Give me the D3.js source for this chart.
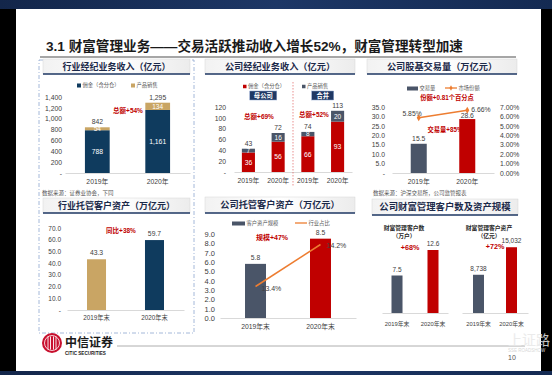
<!DOCTYPE html>
<html>
<head>
<meta charset="utf-8">
<script src="https://cdn.jsdelivr.net/npm/d3@7"></script>
<style>
  body { margin: 0; background: #000; }
  svg { display: block; }
  text { font-family: "Liberation Sans", "Noto Sans CJK SC", sans-serif; }
</style>
</head>
<body>
<svg width="552" height="375"></svg>
<script>
// ---- data
const years = ['2019年', '2020年'];
const yearEnds = ['2019年末', '2020年末'];

// 行业经纪业务收入（亿元）
const indCommission = [788, 1161];
const indProduct = [54, 134];
const indTotal = [842, 1295];
const indTicks = [0, 200, 400, 600, 800, 1000, 1200, 1400];

// 公司经纪业务收入（亿元）: 母公司 2019/2020, 合并 2019/2020
const coKeys = ['p2019', 'p2020', 'c2019', 'c2020'];
const coYears = ['2019年', '2020年', '2019年', '2020年'];
const coCommission = [36, 56, 66, 93];
const coProduct = [7, 16, 8, 20];
const coTotal = [43, 72, 74, 113];
const coTicks = [0, 20, 40, 60, 80, 100, 120];

// 公司股基交易量（万亿元）+ 市场份额
const volume = [15.5, 28.6];
const share = [5.85, 6.66];
const volTicks = [0, 5, 10, 15, 20, 25, 30, 35];
const shareTicks = [0, 1, 2, 3, 4, 5, 6, 7];

// 行业托管客户资产（万亿元）
const indCustody = [43.3, 59.7];
const indCustodyTicks = [0, 10, 20, 30, 40, 50, 60, 70];

// 公司托管客户资产（万亿元）+ 行业占比
const coCustody = [5.8, 8.5];
const coCustodyShare = [13.4, 14.2];
const coCustodyTicks = [0, 1, 2, 3, 4, 5, 6, 7, 8, 9];

// 公司财富管理客户数（万户）及资产（亿元）
const wmClients = [7.5, 12.6];
const wmAssets = [8738, 15032];

const NAVY = '#0f3b5e', GOLD = '#c9a564', RED = '#c00000', SLATE = '#4a5568', ORANGE = '#ed7d31';
const TXT = '#404040';

const svg = d3.select('svg');

// ---- slide background
const defs = svg.append('defs');
const hg = defs.append('linearGradient').attr('id', 'hdr').attr('x1', 0).attr('x2', 1).attr('y1', 0).attr('y2', 0);
hg.append('stop').attr('offset', 0).attr('stop-color', '#f2f2f2');
hg.append('stop').attr('offset', 0.5).attr('stop-color', '#ffffff');
hg.append('stop').attr('offset', 1).attr('stop-color', '#ececec');
const tb = defs.append('linearGradient').attr('id', 'topband').attr('x1', 0).attr('x2', 1);
tb.append('stop').attr('offset', 0).attr('stop-color', '#13264a');
tb.append('stop').attr('offset', 0.5).attr('stop-color', '#1d3766');
tb.append('stop').attr('offset', 1).attr('stop-color', '#142a52');

svg.append('rect').attr('width', 552).attr('height', 375).attr('fill', '#000');
svg.append('rect').attr('width', 552).attr('height', 9).attr('fill', 'url(#topband)');
svg.append('rect').attr('x', 16).attr('y', 9).attr('width', 525).attr('height', 362).attr('fill', '#fff');
svg.append('rect').attr('y', 371).attr('width', 552).attr('height', 4).attr('fill', 'url(#topband)');

// title
const title = svg.append('text').attr('x', 46).attr('y', 51).attr('font-size', 13.6).attr('fill', '#1a1a1a');
title.append('tspan').attr('font-weight', 'bold').text('3.1 ');
title.append('tspan').attr('font-weight', 'bold').text('财富管理业务——交易活跃推动收入增长');
title.append('tspan').attr('font-weight', 'bold').text('52%');
title.append('tspan').attr('font-weight', 'bold').text('，财富管理转型加速');
svg.append('line').attr('x1', 40).attr('x2', 516).attr('y1', 57).attr('y2', 57)
  .attr('stroke', '#a6a6a6').attr('stroke-width', 2);

// left dashed frame
svg.append('rect').attr('x', 39).attr('y', 60).attr('width', 155).attr('height', 273)
  .attr('fill', 'none').attr('stroke', '#8ea6cf').attr('stroke-width', 0.8).attr('stroke-dasharray', '4,2,1,2');

function header(x, y, w, h, label, size) {
  svg.append('rect').attr('x', x).attr('y', y).attr('width', w).attr('height', h)
    .attr('fill', 'url(#hdr)').attr('stroke', '#d6d6d6').attr('stroke-width', 0.5);
  svg.append('line').attr('x1', x).attr('x2', x + w).attr('y1', y + h).attr('y2', y + h)
    .attr('stroke', '#1f3864').attr('stroke-width', 1.4);
  svg.append('text').attr('x', x + w / 2).attr('y', y + h / 2 + 3.3).attr('text-anchor', 'middle')
    .attr('font-size', size).attr('font-weight', 'bold').attr('fill', '#1c2a4a').text(label);
}
header(43, 59, 147, 15, '行业经纪业务收入（亿元）', 9);
header(205, 59, 150, 15, '公司经纪业务收入（亿元）', 9.2);
header(367, 59, 150, 15, '公司股基交易量（万亿元）', 9.2);
header(43, 198, 147, 15, '行业托管客户资产（万亿元）', 9);
header(205, 197, 150, 16, '公司托管客户资产（万亿元）', 9.2);
header(372, 199, 146, 16, '公司财富管理客户数及资产规模', 9.4);

function note(x, y, label) {
  svg.append('text').attr('x', x).attr('y', y).attr('font-size', 5.5).attr('fill', '#555').text(label);
}
note(42, 195, '数据来源：证券业协会，下同');
note(373, 195, '数据来源：沪深交易所，公司监管报表');

function anno(x, y, label, size) {
  svg.append('text').attr('x', x).attr('y', y).attr('text-anchor', 'middle')
    .attr('font-size', size || 6.5).attr('font-weight', 'bold').attr('fill', RED).text(label);
}

function leftAxis(scale, ticks, fmt, x, size) {
  const g = svg.append('g').attr('transform', `translate(${x},0)`)
    .call(d3.axisLeft(scale).tickValues(ticks).tickFormat(fmt).tickSize(0).tickPadding(1));
  g.select('.domain').remove();
  g.selectAll('text').attr('font-size', size).attr('fill', TXT);
  return g;
}
function rightAxis(scale, ticks, fmt, x, size) {
  const g = svg.append('g').attr('transform', `translate(${x},0)`)
    .call(d3.axisRight(scale).tickValues(ticks).tickFormat(fmt).tickSize(0).tickPadding(1));
  g.select('.domain').remove();
  g.selectAll('text').attr('font-size', size).attr('fill', TXT);
  return g;
}
function bottomAxis(scale, y, fmt, size, pad) {
  const g = svg.append('g').attr('transform', `translate(0,${y})`)
    .call(d3.axisBottom(scale).tickSize(0).tickPadding(pad).tickFormat(fmt));
  g.select('.domain').attr('stroke', '#d9d9d9');
  g.selectAll('text').attr('font-size', size).attr('fill', TXT);
  return g;
}
function legendBox(x, y, w, h, color, label) {
  svg.append('rect').attr('x', x).attr('y', y - h / 2 - 1.5).attr('width', w).attr('height', h).attr('fill', color);
  svg.append('text').attr('x', x + w + 1.5).attr('y', y).attr('font-size', 5.3).attr('fill', '#595959').text(label);
}
function legendLine(x, y, w, color, label, marker) {
  svg.append('line').attr('x1', x).attr('x2', x + w).attr('y1', y - 2).attr('y2', y - 2)
    .attr('stroke', color).attr('stroke-width', 1.3);
  if (marker) {
    svg.append('path').attr('d', d3.symbol(d3.symbolDiamond).size(8)())
      .attr('transform', `translate(${x + w / 2},${y - 2})`).attr('fill', color);
  }
  svg.append('text').attr('x', x + w + 1.5).attr('y', y).attr('font-size', 5.3).attr('fill', '#595959').text(label);
}

// ---- chart 1: 行业经纪业务收入
{
  const y = d3.scaleLinear().domain([0, 1400]).range([173, 97]);
  const x = d3.scaleBand().domain(years).range([65, 190]).paddingInner(0.59).paddingOuter(0.33);
  leftAxis(y, indTicks, d => d === 0 ? '-' : d3.format(',')(d), 63, 6.8);
  bottomAxis(x, 173, d => d, 6.8, 6);
  legendBox(77, 87, 4, 4, NAVY, '佣金（含分仓）');
  legendBox(131, 87, 4, 4, GOLD, '产品销售');

  const g = svg.append('g');
  g.selectAll('.c').data(years).join('rect')
    .attr('x', d => x(d)).attr('width', x.bandwidth())
    .attr('y', (d, i) => y(indCommission[i])).attr('height', (d, i) => y(0) - y(indCommission[i]))
    .attr('fill', NAVY);
  g.selectAll('.p').data(years).join('rect')
    .attr('x', d => x(d)).attr('width', x.bandwidth())
    .attr('y', (d, i) => y(indTotal[i])).attr('height', (d, i) => y(indCommission[i]) - y(indTotal[i]))
    .attr('fill', GOLD);
  years.forEach((d, i) => {
    const cx = x(d) + x.bandwidth() / 2;
    g.append('text').attr('x', cx).attr('y', (y(0) + y(indCommission[i])) / 2 + 2.5)
      .attr('text-anchor', 'middle').attr('font-size', 6.8).attr('fill', '#fff').text(d3.format(',')(indCommission[i]));
    g.append('text').attr('x', cx).attr('y', (y(indCommission[i]) + y(indTotal[i])) / 2 + 2.3)
      .attr('text-anchor', 'middle').attr('font-size', 6.5).attr('fill', '#fff').text(indProduct[i]);
    g.append('text').attr('x', cx).attr('y', y(indTotal[i]) - 3)
      .attr('text-anchor', 'middle').attr('font-size', 6.8).attr('fill', TXT).text(d3.format(',')(indTotal[i]));
  });
  anno(128, 113, '总额+54%');
}

// ---- chart 2: 公司经纪业务收入
{
  const y = d3.scaleLinear().domain([0, 120]).range([172, 107]);
  const x = d3.scaleBand().domain(coKeys).range([234, 352]).paddingInner(0.56).paddingOuter(0.265);
  leftAxis(y, coTicks, d => d === 0 ? '-' : d, 227, 6.8);
  bottomAxis(x, 172, (d, i) => coYears[i], 6.8, 6);
  legendBox(243, 88, 3.5, 3.5, RED, '佣金（含分仓）');
  legendBox(302, 88, 3.5, 3.5, SLATE, '产品销售');

  const sepX = (x('p2020') + x.bandwidth() + x('c2019')) / 2;
  svg.append('line').attr('x1', sepX).attr('x2', sepX).attr('y1', 82).attr('y2', 186)
    .attr('stroke', '#e06060').attr('stroke-width', 0.7).attr('stroke-dasharray', '1.5,1.5');

  const badge = (cx, w, label) => {
    svg.append('rect').attr('x', cx - w / 2).attr('y', 91).attr('width', w).attr('height', 9)
      .attr('fill', '#1f3864').attr('stroke', '#8ea6cf').attr('stroke-width', 0.5);
    svg.append('text').attr('x', cx).attr('y', 98).attr('text-anchor', 'middle')
      .attr('font-size', 6.3).attr('font-weight', 'bold').attr('fill', '#fff').text(label);
  };
  badge((x('p2019') + x('p2020') + x.bandwidth()) / 2, 27, '母公司');
  badge((x('c2019') + x('c2020') + x.bandwidth()) / 2, 22, '合并');

  const g = svg.append('g');
  g.selectAll('.c').data(coKeys).join('rect')
    .attr('x', d => x(d)).attr('width', x.bandwidth())
    .attr('y', (d, i) => y(coCommission[i])).attr('height', (d, i) => y(0) - y(coCommission[i]))
    .attr('fill', RED);
  g.selectAll('.p').data(coKeys).join('rect')
    .attr('x', d => x(d)).attr('width', x.bandwidth())
    .attr('y', (d, i) => y(coTotal[i])).attr('height', (d, i) => y(coCommission[i]) - y(coTotal[i]))
    .attr('fill', SLATE);
  coKeys.forEach((d, i) => {
    const cx = x(d) + x.bandwidth() / 2;
    g.append('text').attr('x', cx).attr('y', (y(0) + y(coCommission[i])) / 2 + 2.5)
      .attr('text-anchor', 'middle').attr('font-size', 6.8).attr('fill', '#fff').text(coCommission[i]);
    g.append('text').attr('x', cx).attr('y', (y(coCommission[i]) + y(coTotal[i])) / 2 + 2.3)
      .attr('text-anchor', 'middle').attr('font-size', 6.5).attr('fill', '#fff').text(coProduct[i]);
    g.append('text').attr('x', cx).attr('y', y(coTotal[i]) - 3)
      .attr('text-anchor', 'middle').attr('font-size', 6.8).attr('fill', TXT).text(coTotal[i]);
  });
  anno(259, 119, '总额+69%');
  anno(314, 117, '总额+52%');
}

// ---- chart 3: 公司股基交易量 + 市场份额
{
  const y = d3.scaleLinear().domain([0, 35]).range([173, 107]);
  const yR = d3.scaleLinear().domain([0, 7]).range([173, 107]);
  const x = d3.scaleBand().domain(years).range([392, 494]).paddingInner(0.67).paddingOuter(0.386);
  leftAxis(y, volTicks, d => d === 0 ? '-' : d.toFixed(1), 386, 6.8);
  rightAxis(yR, shareTicks, d => d.toFixed(2) + '%', 499, 6.8);
  bottomAxis(x, 173, d => d, 6.8, 6);
  legendBox(407, 90, 11, 4, SLATE, '交易量');
  legendLine(445, 90, 12, ORANGE, '市场份额', true);

  svg.selectAll('.vol').data(years).join('rect')
    .attr('x', d => x(d)).attr('width', x.bandwidth())
    .attr('y', (d, i) => y(volume[i])).attr('height', (d, i) => y(0) - y(volume[i]))
    .attr('fill', (d, i) => i === 0 ? SLATE : RED);
  years.forEach((d, i) => {
    svg.append('text').attr('x', x(d) + x.bandwidth() / 2).attr('y', y(volume[i]) - (i === 0 ? 3 : 1.5))
      .attr('text-anchor', 'middle').attr('font-size', 6.8).attr('fill', TXT).text(volume[i].toFixed(1));
  });
  const line = d3.line().x((d, i) => x(years[i]) + x.bandwidth() / 2).y(d => yR(d));
  svg.append('path').attr('d', line(share)).attr('fill', 'none').attr('stroke', ORANGE).attr('stroke-width', 1.5);
  share.forEach((v, i) => {
    const cx = x(years[i]) + x.bandwidth() / 2;
    svg.append('path').attr('d', d3.symbol(d3.symbolDiamond).size(14)())
      .attr('transform', `translate(${cx},${yR(v)})`).attr('fill', ORANGE);
    svg.append('text').attr('x', i === 0 ? cx + 3 : cx + 4).attr('y', i === 0 ? yR(v) - 2 : yR(v) + 1.5)
      .attr('text-anchor', i === 0 ? 'end' : 'start').attr('font-size', 6.8).attr('fill', TXT)
      .text(v.toFixed(2) + '%');
  });
  anno(447, 100, '份额+0.81个百分点', 6.3);
  anno(445, 132, '交易量+85%', 6.3);
}

// ---- chart 4: 行业托管客户资产
{
  const y = d3.scaleLinear().domain([0, 70]).range([310, 228]);
  const x = d3.scaleBand().domain(yearEnds).range([67, 184]).paddingInner(0.672).paddingOuter(0.345);
  leftAxis(y, indCustodyTicks, d => d === 0 ? '-' : d.toFixed(1), 62, 6.5);
  bottomAxis(x, 310, d => d, 6.3, 6);
  svg.selectAll('.ic').data(yearEnds).join('rect')
    .attr('x', d => x(d)).attr('width', x.bandwidth())
    .attr('y', (d, i) => y(indCustody[i])).attr('height', (d, i) => y(0) - y(indCustody[i]))
    .attr('fill', (d, i) => i === 0 ? GOLD : NAVY);
  yearEnds.forEach((d, i) => {
    svg.append('text').attr('x', x(d) + x.bandwidth() / 2).attr('y', y(indCustody[i]) - 4)
      .attr('text-anchor', 'middle').attr('font-size', 6.8).attr('fill', TXT).text(indCustody[i].toFixed(1));
  });
  anno(121, 233, '同比+38%');
}

// ---- chart 5: 公司托管客户资产 + 行业占比
{
  const y = d3.scaleLinear().domain([0, 9]).range([318, 234]);
  const yR = d3.scaleLinear().domain([12.8, 14.4]).range([318, 234]);
  const x = d3.scaleBand().domain(yearEnds).range([220, 356]).paddingInner(0.677).paddingOuter(0.385);
  leftAxis(y, coCustodyTicks, d => d.toFixed(1), 216, 7.5);
  bottomAxis(x, 318, d => d, 6.8, 6);
  legendBox(232, 225, 13, 4, SLATE, '客户资产规模');
  legendLine(295, 225, 12, ORANGE, '行业占比', false);

  svg.selectAll('.cc').data(yearEnds).join('rect')
    .attr('x', d => x(d)).attr('width', x.bandwidth())
    .attr('y', (d, i) => y(coCustody[i])).attr('height', (d, i) => y(0) - y(coCustody[i]))
    .attr('fill', (d, i) => i === 0 ? SLATE : RED);
  yearEnds.forEach((d, i) => {
    svg.append('text').attr('x', x(d) + x.bandwidth() / 2).attr('y', y(coCustody[i]) - 4)
      .attr('text-anchor', 'middle').attr('font-size', 6.8).attr('fill', TXT).text(coCustody[i].toFixed(1));
  });
  const line = d3.line().x((d, i) => x(yearEnds[i]) + x.bandwidth() / 2).y(d => yR(d));
  svg.append('path').attr('d', line(coCustodyShare)).attr('fill', 'none').attr('stroke', ORANGE).attr('stroke-width', 1.5);
  coCustodyShare.forEach((v, i) => {
    const cx = x(yearEnds[i]) + x.bandwidth() / 2;
    svg.append('text').attr('x', cx + 6).attr('y', yR(v) + (i === 0 ? 4 : 3))
      .attr('font-size', 7).attr('fill', TXT).text(v.toFixed(1) + '%');
  });
  anno(272, 240, '规模+47%', 7);
}

// ---- chart 6: 财富管理客户数及资产
{
  const y1 = d3.scaleLinear().domain([0, 14]).range([313, 243]);
  const x1 = d3.scaleBand().domain(yearEnds).range([382, 448]).paddingInner(0.694).paddingOuter(0.264);
  const y2 = d3.scaleLinear().domain([0, 16000]).range([313, 243]);
  const x2 = d3.scaleBand().domain(yearEnds).range([462, 528]).paddingInner(0.667).paddingOuter(0.333);
  bottomAxis(x1, 313, d => d, 5.8, 9);
  bottomAxis(x2, 313, d => d, 5.8, 9);

  const sub = (x, y, vals, fmt, cx, t1, t2, pct, px, py) => {
    svg.append('g').selectAll('rect').data(yearEnds).join('rect')
      .attr('x', d => x(d)).attr('width', x.bandwidth())
      .attr('y', (d, i) => y(vals[i])).attr('height', (d, i) => y(0) - y(vals[i]))
      .attr('fill', (d, i) => i === 0 ? SLATE : RED);
    yearEnds.forEach((d, i) => {
      svg.append('text').attr('x', x(d) + x.bandwidth() / 2).attr('y', y(vals[i]) - 4)
        .attr('text-anchor', 'middle').attr('font-size', 6.5).attr('fill', TXT).text(fmt(vals[i]));
    });
    svg.append('text').attr('x', cx).attr('y', 230).attr('text-anchor', 'middle')
      .attr('font-size', 5.8).attr('font-weight', 'bold').attr('fill', '#262626').text(t1);
    svg.append('text').attr('x', cx).attr('y', 237.5).attr('text-anchor', 'middle')
      .attr('font-size', 5.8).attr('font-weight', 'bold').attr('fill', '#262626').text(t2);
    anno(px, py, pct, 7.2);
  };
  sub(x1, y1, wmClients, v => v.toFixed(1), 404, '财富管理客户数', '（万户）', '+68%', 410, 250);
  sub(x2, y2, wmAssets, d3.format(','), 489, '财富管理客户资产', '（亿元）', '+72%', 495, 249);
}

// ---- footer
{
  const lg = svg.append('g').attr('transform', 'translate(52,343)');
  lg.append('circle').attr('r', 10).attr('fill', '#c8102e');
  lg.append('circle').attr('r', 7.5).attr('fill', 'none').attr('stroke', '#fff').attr('stroke-width', 0.8);
  [-4, -1.5, 1.5, 4].forEach(dx => {
    lg.append('line').attr('x1', dx).attr('x2', dx).attr('y1', -6.5).attr('y2', 6.5)
      .attr('stroke', '#fff').attr('stroke-width', 0.9);
  });
  svg.append('text').attr('x', 65).attr('y', 347).attr('font-size', 12).attr('font-weight', 'bold')
    .attr('fill', '#1a1a1a').text('中信证券');
  svg.append('text').attr('x', 65).attr('y', 355).attr('font-size', 4.6).attr('font-weight', 'bold')
    .attr('fill', '#1a1a1a').text('CITIC SECURITIES');
  svg.append('line').attr('x1', 117).attr('x2', 525).attr('y1', 346).attr('y2', 346)
    .attr('stroke', '#9a9a9a').attr('stroke-width', 0.8);
  svg.append('text').attr('x', 512).attr('y', 360).attr('text-anchor', 'middle')
    .attr('font-size', 7).attr('fill', '#555').text('10');
  svg.append('text').attr('x', 508).attr('y', 345).attr('font-size', 14)
    .attr('fill', '#e8e8e8').attr('opacity', 0.85).text('上证路');
  svg.append('text').attr('x', 508).attr('y', 352).attr('font-size', 4.5)
    .attr('fill', '#d8d8d8').text('SSE ROADSHOW');
}
</script>
</body>
</html>
